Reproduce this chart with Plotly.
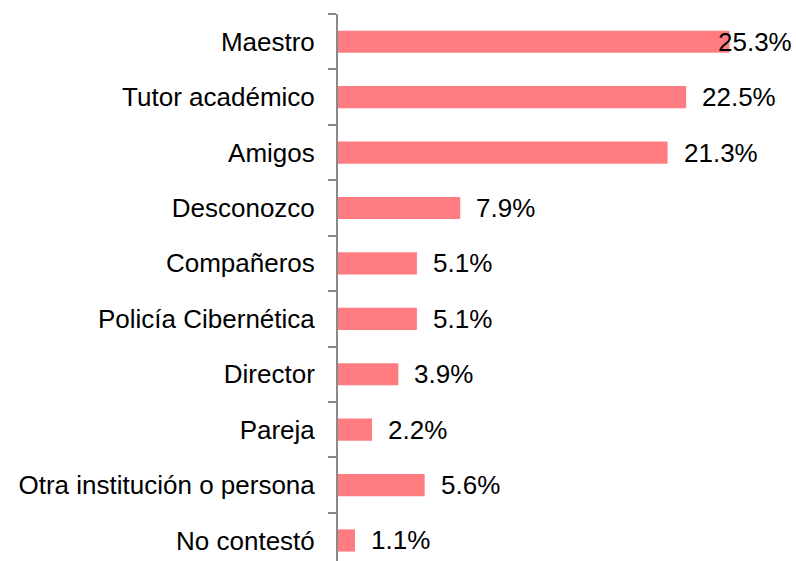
import plotly.graph_objects as go

categories = ["Maestro", "Tutor académico", "Amigos", "Desconozco", "Compañeros",
              "Policía Cibernética", "Director", "Pareja",
              "Otra institución o persona", "No contestó"]
values = [25.3, 22.5, 21.3, 7.9, 5.1, 5.1, 3.9, 2.2, 5.6, 1.1]
labels = [f"{v:.1f}%" for v in values]

W, H = 796, 561
ML, MT, MR, MB = 338, 14, 0, 0
XMAX = 29.6
FONT = "Liberation Sans, Arial, sans-serif"
FS = 26

fig = go.Figure()
fig.add_trace(go.Bar(
    y=categories, x=values, orientation="h",
    marker=dict(color="#FF7C80", line=dict(width=0)),
    width=0.4, hoverinfo="skip",
))

plot_w = W - ML - MR
annotations = []
for c, v, t in zip(categories, values, labels):
    px_end = v / XMAX * plot_w
    est_w = 0.567 * FS * len(t)
    if px_end + 16 + est_w > plot_w:
        annotations.append(dict(x=1, xref="paper", y=c, yref="y", text=t,
                                showarrow=False, xanchor="right", xshift=-2,
                                font=dict(family=FONT, size=FS, color="black")))
    else:
        annotations.append(dict(x=v, xref="x", y=c, yref="y", text=t,
                                showarrow=False, xanchor="left", xshift=14,
                                font=dict(family=FONT, size=FS, color="black")))

fig.update_layout(
    width=W, height=H,
    margin=dict(l=ML, r=MR, t=MT, b=MB, autoexpand=False),
    paper_bgcolor="white", plot_bgcolor="white",
    showlegend=False,
    font=dict(family=FONT, size=FS, color="black"),
    annotations=annotations,
    xaxis=dict(range=[0, XMAX], visible=False, fixedrange=True, automargin=False),
    yaxis=dict(
        type="category",
        range=[9.37, -0.5],
        automargin=False,
        showline=True, linecolor="#898989", linewidth=2,
        ticks="outside", tickson="boundaries", ticklen=8,
        tickcolor="#898989", tickwidth=1.5,
        ticklabelstandoff=16,
        showgrid=False, zeroline=False,
        tickfont=dict(family=FONT, size=FS, color="black"),
    ),
)

fig.write_html("out.html", config={"displayModeBar": False},
               post_script="document.body.style.margin='0';")
